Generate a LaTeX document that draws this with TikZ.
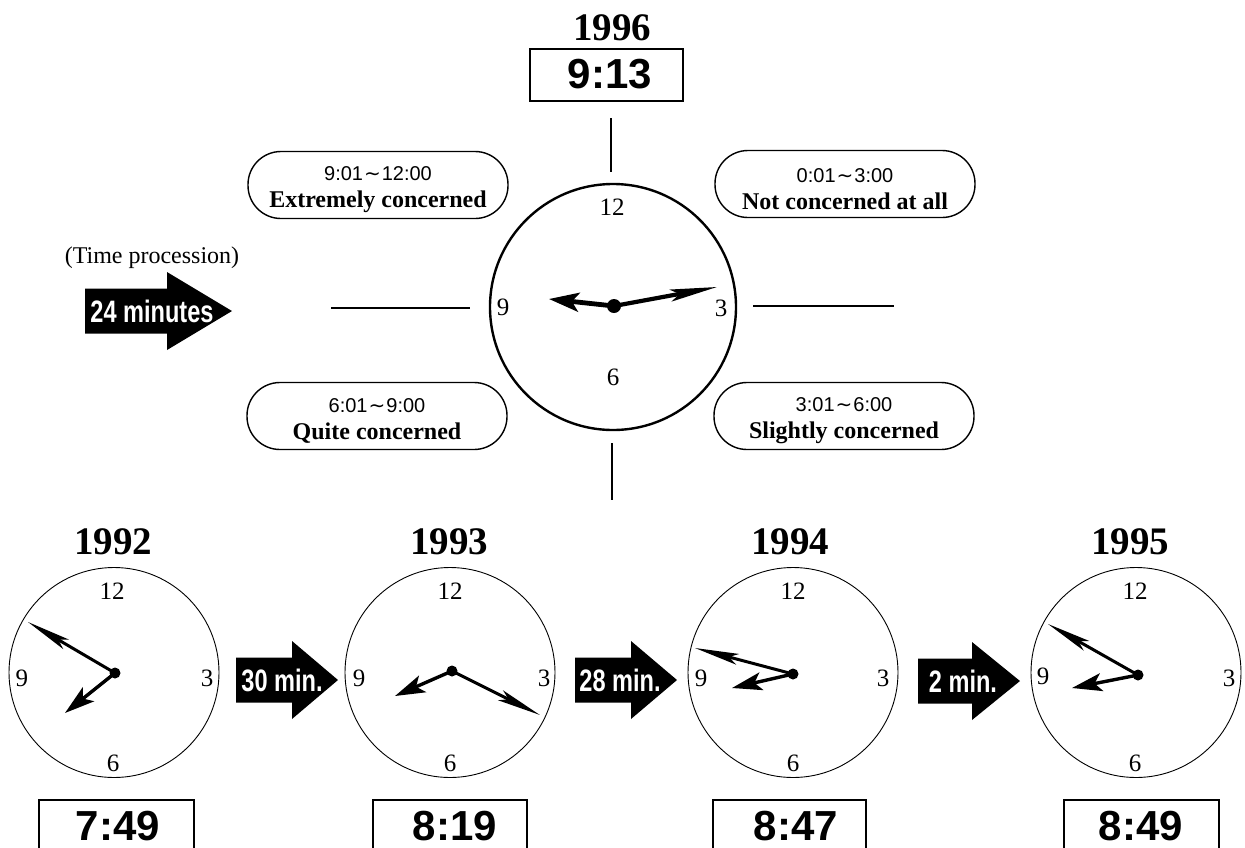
\documentclass[tikz,border=0pt]{standalone}
\usepackage{fontspec}
\setmainfont{Liberation Serif}
\setsansfont{Liberation Sans}
\newfontfamily\symfont{DejaVu Sans}
\usetikzlibrary{arrows.meta}
\newcommand{\fsz}[1]{\fontsize{#1}{#1}\selectfont}
\newcommand{\tl}{{\symfont\kern1pt∼\kern1pt}}
\tikzset{
  yeartxt/.style={font=\fsz{39}\bfseries, inner sep=0pt},
  digit/.style={font=\fsz{25}, inner sep=0pt},
  timetxt/.style={font=\sffamily\bfseries\fsz{42}, inner sep=0pt},
  timebox/.style={draw, line width=1.4pt},
  oval/.style={draw, line width=1.4pt, rounded corners=33pt, minimum width=260pt, minimum height=67pt, inner sep=0pt, align=center, font=\fontsize{24}{27}\selectfont},
  guide/.style={line width=1.1pt},
  bigclock/.style={circle, draw, line width=2.4pt, minimum size=246pt, inner sep=0pt},
  smallclock/.style={circle, draw, line width=0.9pt, minimum size=210pt, inner sep=0pt},
  minhand/.style={line width=3pt, -{Stealth[length=44pt, width=11pt, inset=9pt]}},
  hourhand/.style={line width=3.4pt, -{Stealth[length=30pt, width=18pt, inset=7pt]}},
  bminhand/.style={line width=4.2pt, -{Stealth[length=47pt, width=12pt, inset=9pt]}},
  bhourhand/.style={line width=4.8pt, -{Stealth[length=30pt, width=19pt, inset=7pt]}},
  arrowtxt/.style={text=white, inner sep=0pt, font=\sffamily\bfseries\fsz{31}},
}
\newcommand{\fatarrow}[4]{% x0, xh, xt, yc
  \fill (#1,#4-22.5) -- (#2,#4-22.5) -- (#2,#4-39) -- (#3,#4) -- (#2,#4+39) -- (#2,#4+22.5) -- (#1,#4+22.5) -- cycle;}
\newcommand{\rng}[1]{\rule{0pt}{24pt}{\sffamily\fsz{20}#1}}
\begin{document}
\begin{tikzpicture}[x=1pt,y=-1pt]
\fill[white] (0,0) rectangle (1245,847);
\useasboundingbox (0,0) rectangle (1245,847);

% ---------- top: 1996 ----------
\node[yeartxt] (y96) at (612,28) {1996};
\node[timebox, minimum width=153pt, minimum height=52pt, inner sep=0pt] (b96) at (606.5,75) {};
\node[timetxt] (t96) at (610,74) {9:13};

\node[bigclock] (clk0) at (613,307) {};
\node[digit] (c0n12) at (612,207) {12};
\node[digit] (c0n3) at (721,308) {3};
\node[digit] (c0n6) at (613,377) {6};
\node[digit] (c0n9) at (503,307) {9};
\coordinate (hub0) at (614,306);
\coordinate (hr0) at (549,299);
\coordinate (mn0) at (717,287);
\draw[bhourhand] (hub0) -- (hr0);
\draw[bminhand] (hub0) -- (mn0);
\fill (hub0) circle (7pt);

% guide lines
\coordinate (gt1) at (611,118); \coordinate (gt2) at (611,172);
\coordinate (gb1) at (612,443); \coordinate (gb2) at (612,500);
\coordinate (gl1) at (331,308); \coordinate (gl2) at (470,308);
\coordinate (gr1) at (753,306); \coordinate (gr2) at (894,306);
\draw[guide] (gt1) -- (gt2);
\draw[guide] (gb1) -- (gb2);
\draw[guide] (gl1) -- (gl2);
\draw[guide] (gr1) -- (gr2);

% ovals
\node[oval] (otl) at (378,185) {\rng{9:01\tl 12:00}\\{\bfseries Extremely concerned}};
\node[oval] (otr) at (845,184) {\rng{0:01\tl 3:00}\\{\bfseries Not concerned at all}};
\node[oval] (obl) at (377,416) {\rng{6:01\tl 9:00}\\{\bfseries Quite concerned}};
\node[oval] (obr) at (844,416) {\rng{3:01\tl 6:00}\\{\bfseries Slightly concerned}};

% time procession arrow
\node[inner sep=0pt, font=\fsz{24}] (tp) at (152,258) {(Time procession)};
\fatarrow{85}{167}{232}{311}
\node[arrowtxt] (a24) at (152,311) {\scalebox{0.76}[1]{24 minutes}};

% ---------- bottom row ----------
% 1992
\node[yeartxt] (y92) at (113,542) {1992};
\node[smallclock] (clk1) at (114,672.5) {};
\node[digit] (c1n12) at (112,591) {12};
\node[digit] (c1n3) at (207,678) {3};
\node[digit] (c1n6) at (113,763) {6};
\node[digit] (c1n9) at (22,678) {9};
\coordinate (hub1) at (115,673);
\coordinate (mn1) at (28,622);
\coordinate (hr1) at (65,713);
\draw[minhand] (hub1) -- (mn1);
\draw[hourhand] (hub1) -- (hr1);
\fill (hub1) circle (5.5pt);
\node[timebox, minimum width=155pt, minimum height=80pt, inner sep=0pt] (b92) at (116.5,840) {};
\node[timetxt] (t92) at (118,826) {7:49};

% 1993
\node[yeartxt] (y93) at (449,542) {1993};
\node[smallclock] (clk2) at (450,672.5) {};
\node[digit] (c2n12) at (450,591) {12};
\node[digit] (c2n3) at (544,678) {3};
\node[digit] (c2n6) at (450,763) {6};
\node[digit] (c2n9) at (359,678) {9};
\coordinate (hub2) at (452,671);
\coordinate (mn2) at (540,715);
\coordinate (hr2) at (395,696);
\draw[minhand] (hub2) -- (mn2);
\draw[hourhand] (hub2) -- (hr2);
\fill (hub2) circle (5.5pt);
\node[timebox, minimum width=154pt, minimum height=80pt, inner sep=0pt] (b93) at (450,840) {};
\node[timetxt] (t93) at (455,826) {8:19};

% 1994
\node[yeartxt] (y94) at (790,542) {1994};
\node[smallclock] (clk3) at (793,672.5) {};
\node[digit] (c3n12) at (793,591) {12};
\node[digit] (c3n3) at (883,678) {3};
\node[digit] (c3n6) at (793,763) {6};
\node[digit] (c3n9) at (701,678) {9};
\coordinate (hub3) at (793,674);
\coordinate (mn3) at (695,648);
\coordinate (hr3) at (732,688);
\draw[minhand] (hub3) -- (mn3);
\draw[hourhand] (hub3) -- (hr3);
\fill (hub3) circle (5.5pt);
\node[timebox, minimum width=153pt, minimum height=80pt, inner sep=0pt] (b94) at (789.5,840) {};
\node[timetxt] (t94) at (796,826) {8:47};

% 1995
\node[yeartxt] (y95) at (1130,542) {1995};
\node[smallclock] (clk4) at (1136,672.5) {};
\node[digit] (c4n12) at (1135,591) {12};
\node[digit] (c4n3) at (1229,678) {3};
\node[digit] (c4n6) at (1135,763) {6};
\node[digit] (c4n9) at (1043,676) {9};
\coordinate (hub4) at (1138,675);
\coordinate (mn4) at (1048,624);
\coordinate (hr4) at (1072,688);
\draw[minhand] (hub4) -- (mn4);
\draw[hourhand] (hub4) -- (hr4);
\fill (hub4) circle (5.5pt);
\node[timebox, minimum width=155pt, minimum height=80pt, inner sep=0pt] (b95) at (1141.5,840) {};
\node[timetxt] (t95) at (1141,826) {8:49};

% interval arrows
\fatarrow{236}{292}{338}{680}
\node[arrowtxt] (a30) at (282,680) {\scalebox{0.76}[1]{30 min.}};
\fatarrow{575}{631}{677}{680}
\node[arrowtxt] (a28) at (620,680) {\scalebox{0.76}[1]{28 min.}};
\fatarrow{918}{972}{1020}{681}
\node[arrowtxt] (a2) at (963,681) {\scalebox{0.76}[1]{2 min.}};
\end{tikzpicture}
\end{document}
